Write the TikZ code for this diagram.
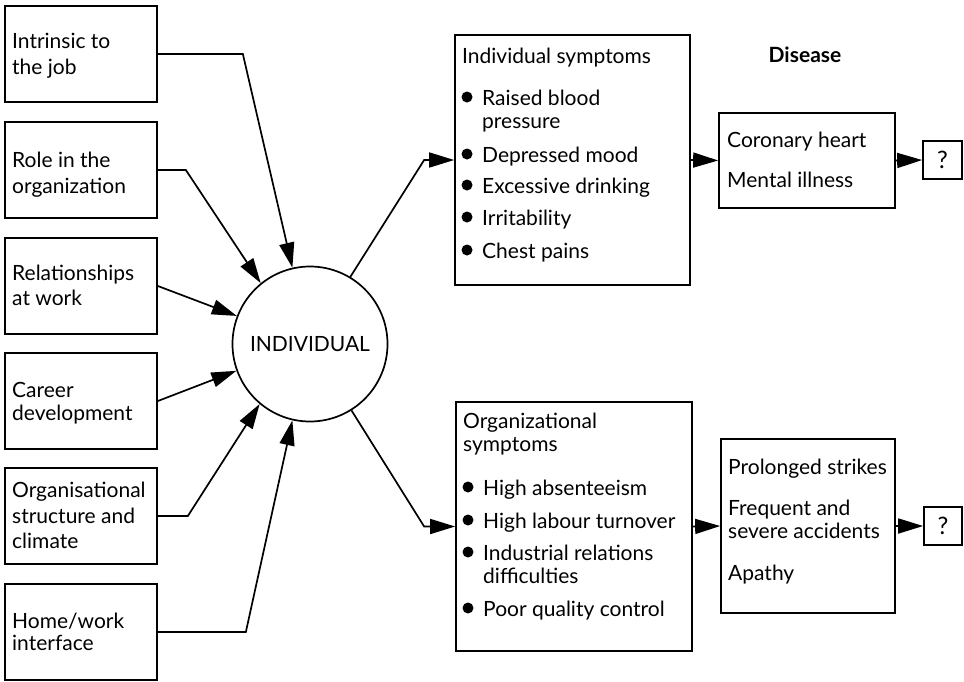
\documentclass[tikz,border=0pt]{standalone}
\usepackage{fontspec}
\setmainfont{Lato}
\usetikzlibrary{arrows.meta}
\begin{document}
\begin{tikzpicture}[x=1pt,y=-1pt,
  box/.style={draw, line width=1.7pt, inner sep=0pt, minimum width=#1},
  txt/.style={anchor=base west, inner sep=0pt, font=\fontsize{21}{25}\selectfont},
  bul/.style={circle, fill, inner sep=0pt, minimum size=11pt},
  arr/.style={-{Triangle[length=25pt,width=15pt]}, line width=1.7pt},
  ln/.style={line width=1.7pt}]
\useasboundingbox (0,0) rectangle (964,681);

% left boxes
\node[box=152pt, minimum height=96pt] (b1) at (81,54) {};
\node[box=152pt, minimum height=96pt] (b2) at (81,170) {};
\node[box=152pt, minimum height=96pt] (b3) at (81,286) {};
\node[box=152pt, minimum height=96pt] (b4) at (81,401) {};
\node[box=152pt, minimum height=96pt] (b5) at (81,516) {};
\node[box=152pt, minimum height=96pt] (b6) at (81,632) {};

\node[txt] (t1a) at (12,48) {Intrinsic to};
\node[txt] (t1b) at (12,74) {the job};
\node[txt] (t2a) at (12,167) {Role in the};
\node[txt] (t2b) at (12,193) {organization};
\node[txt] (t3a) at (12,280) {Relationships};
\node[txt] (t3b) at (12,305) {at work};
\node[txt] (t4a) at (12,397) {Career};
\node[txt] (t4b) at (12,420) {development};
\node[txt] (t5a) at (12,497) {Organisational};
\node[txt] (t5b) at (12,523) {structure and};
\node[txt] (t5c) at (12,548) {climate};
\node[txt] (t6a) at (12,628) {Home/work};
\node[txt] (t6b) at (12,650) {interface};

% central circle
\node[circle, draw, line width=1.7pt, minimum size=155pt, inner sep=0pt,
      font=\fontsize{21}{25}\selectfont] (ind) at (310,344) {INDIVIDUAL};

% right boxes
\node[box=235pt, minimum height=250pt] (isym) at (572.5,160) {};
\node[box=176pt, minimum height=95pt] (dis) at (807,160.5) {};
\node[box=39pt, minimum height=38pt, font=\fontsize{24}{28}\selectfont] (q1) at (942.5,160) {?};
\node[box=236pt, minimum height=249pt] (osym) at (574,526.5) {};
\node[box=174pt, minimum height=174pt] (ores) at (808,526) {};
\node[box=38pt, minimum height=38pt, font=\fontsize{24}{28}\selectfont] (q2) at (943,526) {?};

\node[anchor=base, inner sep=0pt, font=\fontsize{21}{25}\selectfont\bfseries] (dlab) at (805,62) {Disease};

% individual symptoms text
\node[txt] (is0) at (462,63) {Individual symptoms};
\node[bul] (ib1) at (467,97) {};
\node[txt] (is1) at (482,105) {Raised blood};
\node[txt] (is1b) at (482,128) {pressure};
\node[bul] (ib2) at (467,154) {};
\node[txt] (is2) at (482,162) {Depressed mood};
\node[bul] (ib3) at (467,185) {};
\node[txt] (is3) at (482,193) {Excessive drinking};
\node[bul] (ib4) at (467,217) {};
\node[txt] (is4) at (482,225) {Irritability};
\node[bul] (ib5) at (467,250) {};
\node[txt] (is5) at (482,258) {Chest pains};

\node[txt] (d1) at (727,147) {Coronary heart};
\node[txt] (d2) at (727,187) {Mental illness};

% organizational symptoms text
\node[txt] (os0) at (463,428) {Organizational};
\node[txt] (os0b) at (463,451) {symptoms};
\node[bul] (ob1) at (468,487) {};
\node[txt] (os1) at (483,495) {High absenteeism};
\node[bul] (ob2) at (468,520) {};
\node[txt] (os2) at (483,528) {High labour turnover};
\node[bul] (ob3) at (468,552) {};
\node[txt] (os3) at (483,560) {Industrial relations};
\node[txt] (os3b) at (483,583) {difficulties};
\node[bul] (ob4) at (468,608) {};
\node[txt] (os4) at (483,616) {Poor quality control};

\node[txt] (r1) at (728,474) {Prolonged strikes};
\node[txt] (r2) at (728,515) {Frequent and};
\node[txt] (r2b) at (728,538) {severe accidents};
\node[txt] (r3) at (728,580) {Apathy};

% connectors into the circle
\draw[arr] (b1.east) -- ++(85,0) -- (ind.103);
\draw[arr] (b2.east) -- ++(28,0) -- (ind.129);
\draw[arr] (b3.east) -- (ind.159);
\draw[arr] (b4.east) -- (ind.200);
\draw[arr] (b5.east) -- ++(30,0) -- (ind.230);
\draw[arr] (b6.east) -- ++(88,0) -- (ind.257);

% connectors out of the circle
\draw[arr] (ind.59) -- ([xshift=-30pt]isym.west) -- (isym.west);
\draw[arr] (ind.-58) -- ([xshift=-31pt]osym.west) -- (osym.west);

\draw[arr] (isym.east) -- (dis.west);
\draw[arr] (dis.east) -- (q1.west);
\draw[arr] (osym.east) -- (ores.west);
\draw[arr] (ores.east) -- (q2.west);
\end{tikzpicture}
\end{document}
